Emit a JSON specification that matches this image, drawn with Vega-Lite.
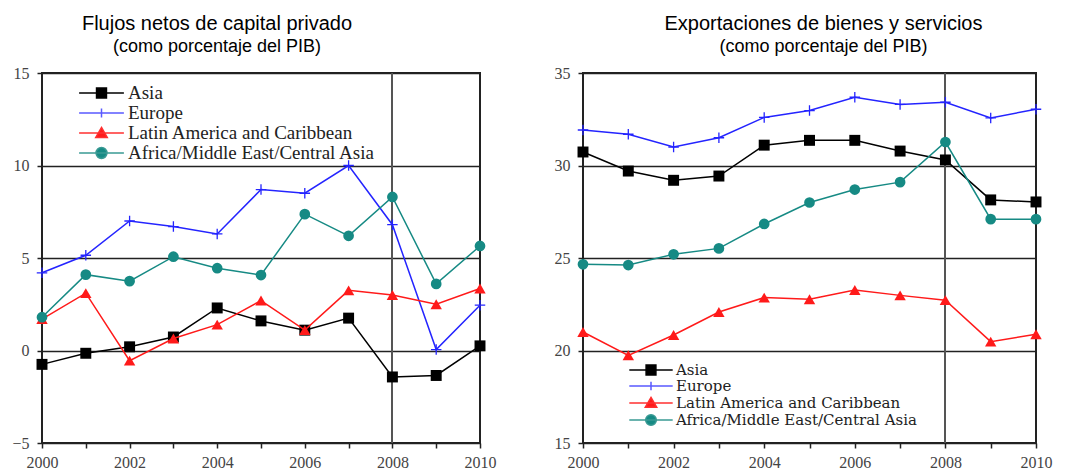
{
  "$schema": "https://vega.github.io/schema/vega-lite/v6.json",
  "background": "white",
  "padding": {"left": 10, "top": 13, "right": 5, "bottom": 5},
  "spacing": 56,
  "resolve": {"scale": {"fill": "independent", "stroke": "independent", "shape": "independent"}, "legend": {"fill": "independent", "stroke": "independent", "shape": "independent"}},
  "datasets": {
    "flujos": [
      {"year":2000,"series":"Asia","value":-0.75},{"year":2001,"series":"Asia","value":-0.15},{"year":2002,"series":"Asia","value":0.2},{"year":2003,"series":"Asia","value":0.73},{"year":2004,"series":"Asia","value":2.3},{"year":2005,"series":"Asia","value":1.6},{"year":2006,"series":"Asia","value":1.1},{"year":2007,"series":"Asia","value":1.75},{"year":2008,"series":"Asia","value":-1.43},{"year":2009,"series":"Asia","value":-1.35},{"year":2010,"series":"Asia","value":0.25},
      {"year":2000,"series":"Europe","value":4.2},{"year":2001,"series":"Europe","value":5.15},{"year":2002,"series":"Europe","value":7.0},{"year":2003,"series":"Europe","value":6.7},{"year":2004,"series":"Europe","value":6.3},{"year":2005,"series":"Europe","value":8.7},{"year":2006,"series":"Europe","value":8.5},{"year":2007,"series":"Europe","value":10.0},{"year":2008,"series":"Europe","value":6.8},{"year":2009,"series":"Europe","value":0.05},{"year":2010,"series":"Europe","value":2.45},
      {"year":2000,"series":"Latin America and Caribbean","value":1.7},{"year":2001,"series":"Latin America and Caribbean","value":3.1},{"year":2002,"series":"Latin America and Caribbean","value":-0.55},{"year":2003,"series":"Latin America and Caribbean","value":0.65},{"year":2004,"series":"Latin America and Caribbean","value":1.4},{"year":2005,"series":"Latin America and Caribbean","value":2.7},{"year":2006,"series":"Latin America and Caribbean","value":1.1},{"year":2007,"series":"Latin America and Caribbean","value":3.25},{"year":2008,"series":"Latin America and Caribbean","value":3.0},{"year":2009,"series":"Latin America and Caribbean","value":2.5},{"year":2010,"series":"Latin America and Caribbean","value":3.35},
      {"year":2000,"series":"Africa/Middle East/Central Asia","value":1.8},{"year":2001,"series":"Africa/Middle East/Central Asia","value":4.1},{"year":2002,"series":"Africa/Middle East/Central Asia","value":3.75},{"year":2003,"series":"Africa/Middle East/Central Asia","value":5.07},{"year":2004,"series":"Africa/Middle East/Central Asia","value":4.45},{"year":2005,"series":"Africa/Middle East/Central Asia","value":4.08},{"year":2006,"series":"Africa/Middle East/Central Asia","value":7.37},{"year":2007,"series":"Africa/Middle East/Central Asia","value":6.2},{"year":2008,"series":"Africa/Middle East/Central Asia","value":8.3},{"year":2009,"series":"Africa/Middle East/Central Asia","value":3.6},{"year":2010,"series":"Africa/Middle East/Central Asia","value":5.65}
    ],
    "export": [
      {"year":2000,"series":"Asia","value":30.73},{"year":2001,"series":"Asia","value":29.7},{"year":2002,"series":"Asia","value":29.2},{"year":2003,"series":"Asia","value":29.43},{"year":2004,"series":"Asia","value":31.1},{"year":2005,"series":"Asia","value":31.36},{"year":2006,"series":"Asia","value":31.36},{"year":2007,"series":"Asia","value":30.78},{"year":2008,"series":"Asia","value":30.3},{"year":2009,"series":"Asia","value":28.14},{"year":2010,"series":"Asia","value":28.03},
      {"year":2000,"series":"Europe","value":31.92},{"year":2001,"series":"Europe","value":31.69},{"year":2002,"series":"Europe","value":31.0},{"year":2003,"series":"Europe","value":31.5},{"year":2004,"series":"Europe","value":32.6},{"year":2005,"series":"Europe","value":32.97},{"year":2006,"series":"Europe","value":33.69},{"year":2007,"series":"Europe","value":33.3},{"year":2008,"series":"Europe","value":33.42},{"year":2009,"series":"Europe","value":32.57},{"year":2010,"series":"Europe","value":33.04},
      {"year":2000,"series":"Latin America and Caribbean","value":21.0},{"year":2001,"series":"Latin America and Caribbean","value":19.74},{"year":2002,"series":"Latin America and Caribbean","value":20.84},{"year":2003,"series":"Latin America and Caribbean","value":22.08},{"year":2004,"series":"Latin America and Caribbean","value":22.86},{"year":2005,"series":"Latin America and Caribbean","value":22.77},{"year":2006,"series":"Latin America and Caribbean","value":23.27},{"year":2007,"series":"Latin America and Caribbean","value":22.98},{"year":2008,"series":"Latin America and Caribbean","value":22.72},{"year":2009,"series":"Latin America and Caribbean","value":20.48},{"year":2010,"series":"Latin America and Caribbean","value":20.88},
      {"year":2000,"series":"Africa/Middle East/Central Asia","value":24.66},{"year":2001,"series":"Africa/Middle East/Central Asia","value":24.62},{"year":2002,"series":"Africa/Middle East/Central Asia","value":25.2},{"year":2003,"series":"Africa/Middle East/Central Asia","value":25.52},{"year":2004,"series":"Africa/Middle East/Central Asia","value":26.84},{"year":2005,"series":"Africa/Middle East/Central Asia","value":28.0},{"year":2006,"series":"Africa/Middle East/Central Asia","value":28.7},{"year":2007,"series":"Africa/Middle East/Central Asia","value":29.1},{"year":2008,"series":"Africa/Middle East/Central Asia","value":31.27},{"year":2009,"series":"Africa/Middle East/Central Asia","value":27.1},{"year":2010,"series":"Africa/Middle East/Central Asia","value":27.1}
    ]
  },
  "hconcat": [
    {
      "width": 438, "height": 370,
      "title": {"text": "Flujos netos de capital privado", "subtitle": "(como porcentaje del PIB)", "dx": -44},
      "data": {"name": "flujos"},
      "layer": [
        {"mark": {"type": "rule", "color": "#555", "strokeWidth": 1}, "encoding": {"x": {"datum": 2008, "type": "quantitative", "scale": {"domain": [2000, 2010], "nice": false, "zero": false}, "axis": {"values": [2000,2001,2002,2003,2004,2005,2006,2007,2008,2009,2010], "format": "d", "labelExpr": "datum.value % 2 == 0 ? datum.label : ''", "title": null}}}},
        {"transform": [{"filter": "datum.series == 'Asia'"}], "mark": {"type": "line", "color": "#000000", "strokeWidth": 1.5, "point": {"shape": "square", "filled": true, "color": "#000000", "size": 120, "opacity": 1}},
         "encoding": {"x": {"field": "year", "type": "quantitative"}, "y": {"field": "value", "type": "quantitative", "scale": {"domain": [-5, 15], "nice": false, "zero": false}, "axis": {"values": [-5, 0, 5, 10, 15], "title": null}}}},
        {"transform": [{"filter": "datum.series == 'Europe'"}], "mark": {"type": "line", "color": "#2424ff", "strokeWidth": 1.5, "point": {"shape": "M-1,0H1M0,-1V1", "filled": false, "color": "#2424ff", "strokeWidth": 1.3, "size": 110, "opacity": 1}},
         "encoding": {"x": {"field": "year", "type": "quantitative"}, "y": {"field": "value", "type": "quantitative"}}},
        {"transform": [{"filter": "datum.series == 'Latin America and Caribbean'"}], "mark": {"type": "line", "color": "#ff1a1a", "strokeWidth": 1.5, "point": {"shape": "triangle-up", "filled": true, "color": "#ff1a1a", "size": 130, "opacity": 1}},
         "encoding": {"x": {"field": "year", "type": "quantitative"}, "y": {"field": "value", "type": "quantitative"}}},
        {"transform": [{"filter": "datum.series == 'Africa/Middle East/Central Asia'"}], "mark": {"type": "line", "color": "#168a84", "strokeWidth": 1.5, "point": {"shape": "circle", "filled": true, "color": "#168a84", "size": 115, "opacity": 1}},
         "encoding": {"x": {"field": "year", "type": "quantitative"}, "y": {"field": "value", "type": "quantitative"}}},
        {"mark": {"type": "point", "size": 0, "filled": true, "strokeWidth": 1.5, "opacity": 1},
         "encoding": {
           "x": {"field": "year", "type": "quantitative"},
           "y": {"field": "value", "type": "quantitative"},
           "fill": {"field": "series", "type": "nominal", "scale": {"domain": ["Asia", "Europe", "Latin America and Caribbean", "Africa/Middle East/Central Asia"], "range": ["#000000", "#2424ff", "#ff1a1a", "#168a84"]}, "legend": {"orient": "none", "legendX": 50, "legendY": 10.5, "title": null, "symbolSize": 256, "rowPadding": 0, "labelOffset": 17, "labelLimit": 500, "labelFont": "Liberation Serif", "labelFontSize": 19}},
           "stroke": {"field": "series", "type": "nominal", "scale": {"domain": ["Asia", "Europe", "Latin America and Caribbean", "Africa/Middle East/Central Asia"], "range": ["#000000", "#5a5aff", "#ff3030", "#3a9a94"]}, "legend": {"orient": "none", "legendX": 50, "legendY": 10.5, "title": null, "symbolSize": 256, "rowPadding": 0, "labelOffset": 17, "labelLimit": 500, "labelFont": "Liberation Serif", "labelFontSize": 19}},
           "shape": {"field": "series", "type": "nominal", "scale": {"domain": ["Asia", "Europe", "Latin America and Caribbean", "Africa/Middle East/Central Asia"], "range": ["M-2.8,0H2.8M-0.62,-0.62H0.62V0.62H-0.62Z", "M-2.8,0H2.8M0,-0.55V0.55", "M-2.8,0H2.8M0,-0.7L0.72,0.55H-0.72Z", "M-2.8,0H2.8M0.68,0A0.68,0.68 0 1,1 -0.68,0A0.68,0.68 0 1,1 0.68,0Z"]}, "legend": {"orient": "none", "legendX": 50, "legendY": 10.5, "title": null, "symbolSize": 256, "rowPadding": 0, "labelOffset": 17, "labelLimit": 500, "labelFont": "Liberation Serif", "labelFontSize": 19}}
         }}
      ]
    },
    {
      "width": 453, "height": 370,
      "title": {"text": "Exportaciones de bienes y servicios", "subtitle": "(como porcentaje del PIB)", "dx": 14},
      "data": {"name": "export"},
      "layer": [
        {"mark": {"type": "rule", "color": "#555", "strokeWidth": 1}, "encoding": {"x": {"datum": 2008, "type": "quantitative", "scale": {"domain": [2000, 2010], "nice": false, "zero": false}, "axis": {"values": [2000,2001,2002,2003,2004,2005,2006,2007,2008,2009,2010], "format": "d", "labelExpr": "datum.value % 2 == 0 ? datum.label : ''", "title": null}}}},
        {"transform": [{"filter": "datum.series == 'Asia'"}], "mark": {"type": "line", "color": "#000000", "strokeWidth": 1.5, "point": {"shape": "square", "filled": true, "color": "#000000", "size": 120, "opacity": 1}},
         "encoding": {"x": {"field": "year", "type": "quantitative"}, "y": {"field": "value", "type": "quantitative", "scale": {"domain": [15, 35], "nice": false, "zero": false}, "axis": {"values": [15, 20, 25, 30, 35], "title": null}}}},
        {"transform": [{"filter": "datum.series == 'Europe'"}], "mark": {"type": "line", "color": "#2424ff", "strokeWidth": 1.5, "point": {"shape": "M-1,0H1M0,-1V1", "filled": false, "color": "#2424ff", "strokeWidth": 1.3, "size": 110, "opacity": 1}},
         "encoding": {"x": {"field": "year", "type": "quantitative"}, "y": {"field": "value", "type": "quantitative"}}},
        {"transform": [{"filter": "datum.series == 'Latin America and Caribbean'"}], "mark": {"type": "line", "color": "#ff1a1a", "strokeWidth": 1.5, "point": {"shape": "triangle-up", "filled": true, "color": "#ff1a1a", "size": 130, "opacity": 1}},
         "encoding": {"x": {"field": "year", "type": "quantitative"}, "y": {"field": "value", "type": "quantitative"}}},
        {"transform": [{"filter": "datum.series == 'Africa/Middle East/Central Asia'"}], "mark": {"type": "line", "color": "#168a84", "strokeWidth": 1.5, "point": {"shape": "circle", "filled": true, "color": "#168a84", "size": 115, "opacity": 1}},
         "encoding": {"x": {"field": "year", "type": "quantitative"}, "y": {"field": "value", "type": "quantitative"}}},
        {"mark": {"type": "point", "size": 0, "filled": true, "strokeWidth": 1.5, "opacity": 1},
         "encoding": {
           "x": {"field": "year", "type": "quantitative"},
           "y": {"field": "value", "type": "quantitative"},
           "fill": {"field": "series", "type": "nominal", "scale": {"domain": ["Asia", "Europe", "Latin America and Caribbean", "Africa/Middle East/Central Asia"], "range": ["#000000", "#2424ff", "#ff1a1a", "#168a84"]}, "legend": {"orient": "none", "legendX": 60, "legendY": 289, "title": null, "symbolSize": 196, "rowPadding": 0, "labelOffset": 17, "labelLimit": 500, "labelFont": "DejaVu Serif", "labelFontSize": 15}},
           "stroke": {"field": "series", "type": "nominal", "scale": {"domain": ["Asia", "Europe", "Latin America and Caribbean", "Africa/Middle East/Central Asia"], "range": ["#000000", "#5a5aff", "#ff3030", "#3a9a94"]}, "legend": {"orient": "none", "legendX": 60, "legendY": 289, "title": null, "symbolSize": 196, "rowPadding": 0, "labelOffset": 17, "labelLimit": 500, "labelFont": "DejaVu Serif", "labelFontSize": 15}},
           "shape": {"field": "series", "type": "nominal", "scale": {"domain": ["Asia", "Europe", "Latin America and Caribbean", "Africa/Middle East/Central Asia"], "range": ["M-3.1,0H3.1M-0.7,-0.7H0.7V0.7H-0.7Z", "M-3.1,0H3.1M0,-0.62V0.62", "M-3.1,0H3.1M0,-0.8L0.82,0.62H-0.82Z", "M-3.1,0H3.1M0.76,0A0.76,0.76 0 1,1 -0.76,0A0.76,0.76 0 1,1 0.76,0Z"]}, "legend": {"orient": "none", "legendX": 60, "legendY": 289, "title": null, "symbolSize": 196, "rowPadding": 0, "labelOffset": 17, "labelLimit": 500, "labelFont": "DejaVu Serif", "labelFontSize": 15}}
         }}
      ]
    }
  ],
  "config": {
    "view": {"stroke": "#222", "strokeWidth": 2},
    "title": {"font": "Liberation Sans", "fontSize": 20, "fontWeight": "normal", "color": "#000", "subtitleFont": "Liberation Sans", "subtitleFontSize": 18, "subtitleColor": "#000", "subtitlePadding": 4, "anchor": "middle", "offset": 9},
    "axis": {"labelFont": "Liberation Serif", "labelFontSize": 16, "labelColor": "#444", "tickColor": "#222", "tickSize": 5, "tickWidth": 1.5, "domain": false, "grid": false},
    "axisY": {"grid": true, "gridColor": "#222", "gridWidth": 1.5, "labelPadding": 8},
    "axisX": {"labelPadding": 6, "labelFlush": false},
    "legend": {"labelFont": "Liberation Serif", "labelFontSize": 19, "labelColor": "#222", "padding": 0, "symbolStrokeWidth": 1.5}
  }
}
